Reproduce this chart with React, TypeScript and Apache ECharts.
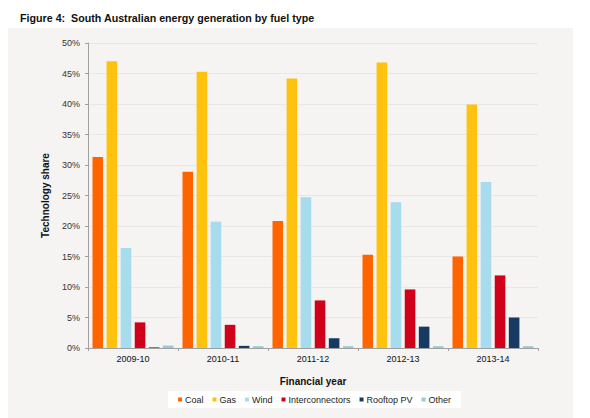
import React, { useEffect, useRef } from "react";
import * as echarts from "echarts";

const categories = ["2009-10", "2010-11", "2011-12", "2012-13", "2013-14"];
const coal = [31.3, 28.9, 20.8, 15.3, 15.0];
const gas = [47.0, 45.3, 44.2, 46.8, 39.9];
const wind = [16.4, 20.7, 24.7, 23.9, 27.2];
const interconnectors = [4.2, 3.8, 7.8, 9.6, 11.9];
const rooftopPV = [0.1, 0.35, 1.6, 3.5, 5.0];
const other = [0.4, 0.3, 0.3, 0.3, 0.3];
const yTicks = [0, 5, 10, 15, 20, 25, 30, 35, 40, 45, 50];

const seriesDefs = [
  { name: "Coal", data: coal, color: "#ff6400" },
  { name: "Gas", data: gas, color: "#ffc20e" },
  { name: "Wind", data: wind, color: "#a6dcec" },
  { name: "Interconnectors", data: interconnectors, color: "#d0021b" },
  { name: "Rooftop PV", data: rooftopPV, color: "#173a63" },
  { name: "Other", data: other, color: "#94cbd6" },
];

const FONT = "'Liberation Sans', Arial, sans-serif";

export default function App() {
  const ref = useRef<HTMLDivElement>(null);
  useEffect(() => {
    if (!ref.current) return;
    const chart = echarts.init(ref.current, undefined, { renderer: "svg" });
    chart.setOption({
      animation: false,
      backgroundColor: "#ffffff",
      textStyle: { fontFamily: FONT },
      graphic: [
        {
          type: "rect",
          z: -10,
          silent: true,
          shape: { x: 8, y: 28, width: 565, height: 390 },
          style: { fill: "#f5f4f2" },
        },
      ],
      title: {
        text: "Figure 4:  South Australian energy generation by fuel type",
        left: 15,
        top: 7,
        textStyle: { fontFamily: FONT, fontSize: 10.7, fontWeight: "bold", color: "#111" },
      },
      legend: {
        bottom: 10,
        left: 168,
        icon: "rect",
        itemWidth: 4,
        itemHeight: 4,
        itemGap: 9,
        backgroundColor: "#ffffff",
        padding: [4, 10],
        textStyle: { fontFamily: FONT, fontSize: 9, color: "#222", padding: [0, 0, 0, -2] },
        data: seriesDefs.map((s) => s.name),
      },
      grid: { left: 88, right: 52, top: 43, bottom: 70 },
      xAxis: {
        type: "category",
        data: categories,
        name: "Financial year",
        nameLocation: "middle",
        nameGap: 28,
        nameTextStyle: { fontFamily: FONT, fontSize: 10, fontWeight: "bold", color: "#111" },
        axisLine: { lineStyle: { color: "#a0a0a0" } },
        axisTick: { show: true, length: 3, lineStyle: { color: "#a0a0a0" } },
        axisLabel: { fontFamily: FONT, fontSize: 9, color: "#111", margin: 6 },
      },
      yAxis: {
        type: "value",
        min: yTicks[0],
        max: yTicks[yTicks.length - 1],
        interval: 5,
        name: "Technology share",
        nameLocation: "middle",
        nameGap: 38,
        nameTextStyle: { fontFamily: FONT, fontSize: 10, fontWeight: "bold", color: "#111" },
        axisLine: { show: true, lineStyle: { color: "#a0a0a0" } },
        axisTick: { show: true, length: 3, lineStyle: { color: "#a0a0a0" } },
        axisLabel: { fontFamily: FONT, fontSize: 9, color: "#333", margin: 8, formatter: "{value}%" },
        splitLine: { lineStyle: { color: "#e9e7e4" } },
      },
      series: seriesDefs.map((s) => ({
        name: s.name,
        type: "bar",
        data: s.data,
        barGap: "33%",
        barCategoryGap: "10%",
        itemStyle: { color: s.color },
      })),
    });
    return () => chart.dispose();
  }, []);
  return (
    <div
      ref={ref}
      style={{ position: "absolute", left: 0, top: 0, width: 590, height: 418 }}
    />
  );
}
